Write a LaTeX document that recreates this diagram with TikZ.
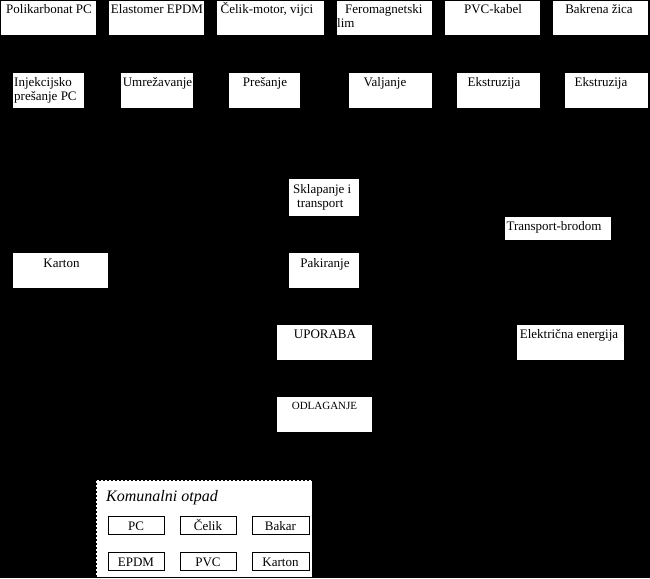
\documentclass[tikz,border=0pt]{standalone}
\usepackage{fontspec}
\setmainfont{Liberation Serif}
\begin{document}
\begin{tikzpicture}[x=1pt,y=-1pt,
  wbox/.style={fill=white, draw=none, inner sep=0pt, outer sep=0pt, anchor=north west},
  ibox/.style={fill=white, draw=black, line width=0.8pt, inner sep=0pt, anchor=north west, minimum width=56pt, minimum height=18pt},
  lbl/.style={inner sep=0pt, anchor=base, font=\fontsize{13}{15}\selectfont},
  lbll/.style={lbl, anchor=base west}]
\useasboundingbox (0,0) rectangle (650,578);
\fill[black] (0,0) rectangle (650,578);
% top row
\node[wbox, minimum width=95pt, minimum height=34pt] (pc) at (1,1) {};
\node[wbox, minimum width=95pt, minimum height=34pt] (epdm) at (109,1) {};
\node[wbox, minimum width=107pt, minimum height=34pt] (celik) at (217,1) {};
\node[wbox, minimum width=95pt, minimum height=34pt] (fero) at (337,1) {};
\node[wbox, minimum width=95pt, minimum height=34pt] (pvc) at (445,1) {};
\node[wbox, minimum width=95pt, minimum height=34pt] (bakar) at (553,1) {};
\node[lbl] (pct) at (49,14) {Polikarbonat PC};
\node[lbl] (epdmt) at (157,14) {Elastomer EPDM};
\node[lbl] (celikt) at (267,14) {Čelik-motor, vijci};
\node[lbll] (ferot) at (345,14) {Feromagnetski};
\node[lbll] (ferot2) at (337,28) {lim};
\node[lbl] (pvct) at (493,14) {PVC-kabel};
\node[lbl] (bakart) at (599,14) {Bakrena žica};
% second row
\node[wbox, minimum width=71pt, minimum height=35pt] (inj) at (13,73) {};
\node[wbox, minimum width=72pt, minimum height=35pt] (umr) at (121,73) {};
\node[wbox, minimum width=71pt, minimum height=35pt] (pres) at (229,73) {};
\node[wbox, minimum width=83pt, minimum height=35pt] (valj) at (349,73) {};
\node[wbox, minimum width=83pt, minimum height=35pt] (ekst1) at (457,73) {};
\node[wbox, minimum width=83pt, minimum height=35pt] (ekst2) at (565,73) {};
\node[lbll] (injt) at (14,86) {Injekcijsko};
\node[lbll] (injt2) at (14,100) {prešanje PC};
\node[lbl] (umrt) at (157.5,86) {Umrežavanje};
\node[lbl] (prest) at (265,86) {Prešanje};
\node[lbl] (valjt) at (385,86) {Valjanje};
\node[lbl] (ekst1t) at (494,86) {Ekstruzija};
\node[lbl] (ekst2t) at (601,86) {Ekstruzija};
% middle
\node[wbox, minimum width=70pt, minimum height=37pt] (sklap) at (289,179) {};
\node[lbll] (sklapt) at (293,193) {Sklapanje i};
\node[lbll] (sklapt2) at (297,207) {transport};
\node[wbox, minimum width=106pt, minimum height=23pt] (trans) at (505,217) {};
\node[lbl] (transt) at (554,230) {Transport-brodom};
\node[wbox, minimum width=95pt, minimum height=35pt] (karton) at (13,253) {};
\node[lbl] (kartont) at (61.5,267) {Karton};
\node[wbox, minimum width=70pt, minimum height=35pt] (pakir) at (289,253) {};
\node[lbl] (pakirt) at (325,267) {Pakiranje};
\node[wbox, minimum width=95pt, minimum height=35pt] (upor) at (277,325) {};
\node[lbl] (uport) at (325,338) {UPORABA};
\node[wbox, minimum width=107pt, minimum height=35pt] (elek) at (517,325) {};
\node[lbl] (elekt) at (569,338) {Električna energija};
\node[wbox, minimum width=95pt, minimum height=35pt] (odlag) at (277,397) {};
\node[lbl, font=\fontsize{11}{13}\selectfont] (odlagt) at (324.5,409) {ODLAGANJE};
% komunalni otpad
\node[fill=white, draw=black, dashed, dash pattern=on 2pt off 2pt, line width=1pt, inner sep=0pt, outer sep=0pt, anchor=north west, minimum width=216pt, minimum height=97pt] (kom) at (96,480) {};
\node[lbll, font=\fontsize{16}{18}\selectfont\itshape] (komt) at (106,501) {Komunalni otpad};
\node[ibox] (ipc) at (108,516) {};
\node[ibox] (icel) at (180,516) {};
\node[ibox, minimum width=57pt] (ibak) at (252,516) {};
\node[ibox] (iepdm) at (108,552) {};
\node[ibox] (ipvc) at (180,552) {};
\node[ibox, minimum width=57pt] (ikart) at (252,552) {};
\node[lbl] (ipct) at (136,530) {PC};
\node[lbl] (icelt) at (208,530) {Čelik};
\node[lbl] (ibakt) at (280.5,530) {Bakar};
\node[lbl] (iepdmt) at (136,566) {EPDM};
\node[lbl] (ipvct) at (208,566) {PVC};
\node[lbl] (ikartt) at (280.5,566) {Karton};
\end{tikzpicture}
\end{document}
